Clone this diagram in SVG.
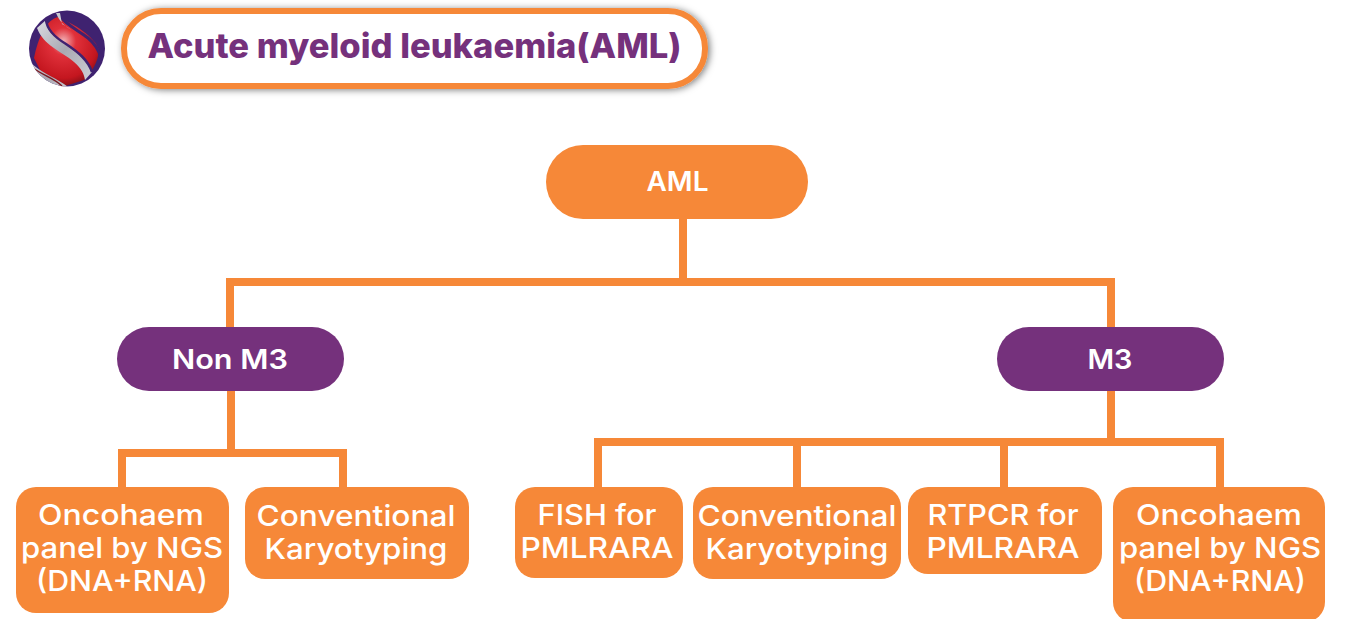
<svg xmlns="http://www.w3.org/2000/svg" width="1347" height="619" viewBox="0 0 1347 619">
<style>
.o{fill:#f68838}.p{fill:#75317c}
.c{stroke:#f68838;fill:none;stroke-width:8}
text{font-family:Inter,"Open Sans","Liberation Sans",sans-serif;text-anchor:middle;fill:#fff;font-weight:500;font-size:29px}
.b{font-weight:600;font-size:27px}
.t{fill:#75317c;font-weight:800;font-size:34px}
</style>
<defs>
<filter id="sh" x="-5%" y="-25%" width="110%" height="150%"><feDropShadow dx="2" dy="1" stdDeviation="3.500" flood-color="#000" flood-opacity=".5"/></filter>
<radialGradient id="red" cx=".45" cy=".35" r=".7"><stop offset="0" stop-color="#f2b6ba"/><stop offset=".28" stop-color="#e0303a"/><stop offset=".75" stop-color="#c4161f"/><stop offset="1" stop-color="#6d0d14"/></radialGradient>
<linearGradient id="band" x1="0" y1="0" x2="1" y2="1"><stop offset="0" stop-color="#dcdce2"/><stop offset=".5" stop-color="#a9a9b2"/><stop offset="1" stop-color="#cfcfd6"/></linearGradient>
<clipPath id="ball"><circle cx="67" cy="48.500" r="38"/></clipPath>
</defs>
<g id="logo" clip-path="url(#ball)">
<rect x="29" y="10" width="76" height="77" fill="#3f2270"/>
<path d="M34 58C38 38 46 20 58 17C74 24 94 36 99 50C98 62 92 72 84 80L62 87L44 78Z" fill="url(#red)"/>
<path d="M30 62C40 72 52 76 64 84L72 90L50 90C38 84 30 74 28 66Z" fill="url(#band)"/>
<path d="M33 68C44 76 54 78 62 86" fill="none" stroke="#7a1a22" stroke-width="1.500"/>
<path d="M37 28C44 46 60 50 74 62C82 69 84 74 85 80L92 72C88 60 76 52 64 44C54 37 46 30 46 20Z" fill="url(#band)"/>
<path d="M46 20C47 30 56 38 66 44C78 52 88 60 92 72" fill="none" stroke="#3f2270" stroke-width="2.500"/>
<path d="M58 13C64 24 78 30 88 38C94 43 99 50 101 58" fill="none" stroke="#3f2270" stroke-width="3"/>
<path d="M56 13C60 22 64 26 72 30L62 24L60 13Z" fill="#c9c9d0"/>
</g>
<g id="title">
<rect x="124" y="11" width="581" height="75" rx="37" fill="#fff" stroke="#f68838" stroke-width="6" filter="url(#sh)"/>
<text class="t" x="414.500" y="58" textLength="534" lengthAdjust="spacingAndGlyphs">Acute myeloid leukaemia(AML)</text>
</g>
<g id="connectors">
<path class="c" d="M683 218V282M230 327V282H1111V327"/>
<path class="c" d="M231 391V453M122 488V453H343V488"/>
<path class="c" d="M1111 391V442M598 488V442H1220V488M797 442V488M1004 442V488"/>
</g>
<g id="aml"><rect class="o" x="546" y="145" width="262" height="74" rx="37"/><text class="b" x="677.500" y="191" textLength="62" lengthAdjust="spacingAndGlyphs">AML</text></g>
<g id="nonm3"><rect class="p" x="117" y="327" width="227" height="64" rx="32"/><text class="b" x="230" y="369" textLength="116" lengthAdjust="spacingAndGlyphs">Non M3</text></g>
<g id="m3"><rect class="p" x="997" y="327" width="227" height="64" rx="32"/><text class="b" x="1110" y="369" textLength="45" lengthAdjust="spacingAndGlyphs">M3</text></g>
<g id="n1"><rect class="o" x="16" y="487" width="213" height="126" rx="20"/>
<text x="121" y="525" textLength="166" lengthAdjust="spacingAndGlyphs">Oncohaem</text><text x="122" y="558" textLength="202" lengthAdjust="spacingAndGlyphs">panel by NGS</text><text x="122" y="591" textLength="172" lengthAdjust="spacingAndGlyphs">(DNA+RNA)</text></g>
<g id="n2"><rect class="o" x="245" y="487" width="224" height="92" rx="20"/>
<text x="356" y="526" textLength="199" lengthAdjust="spacingAndGlyphs">Conventional</text><text x="356" y="559" textLength="183" lengthAdjust="spacingAndGlyphs">Karyotyping</text></g>
<g id="n3"><rect class="o" x="515" y="487" width="168" height="91" rx="20"/>
<text x="597" y="525" textLength="119" lengthAdjust="spacingAndGlyphs">FISH for</text><text x="597" y="558" textLength="153" lengthAdjust="spacingAndGlyphs">PMLRARA</text></g>
<g id="n4"><rect class="o" x="693" y="487" width="208" height="92" rx="20"/>
<text x="797" y="526" textLength="199" lengthAdjust="spacingAndGlyphs">Conventional</text><text x="797" y="559" textLength="183" lengthAdjust="spacingAndGlyphs">Karyotyping</text></g>
<g id="n5"><rect class="o" x="908" y="487" width="194" height="87" rx="20"/>
<text x="1003" y="525" textLength="151" lengthAdjust="spacingAndGlyphs">RTPCR for</text><text x="1003" y="558" textLength="153" lengthAdjust="spacingAndGlyphs">PMLRARA</text></g>
<g id="n6"><rect class="o" x="1113" y="487" width="212" height="135" rx="20"/>
<text x="1219" y="525" textLength="166" lengthAdjust="spacingAndGlyphs">Oncohaem</text><text x="1220" y="558" textLength="202" lengthAdjust="spacingAndGlyphs">panel by NGS</text><text x="1220" y="591" textLength="172" lengthAdjust="spacingAndGlyphs">(DNA+RNA)</text></g>
</svg>
